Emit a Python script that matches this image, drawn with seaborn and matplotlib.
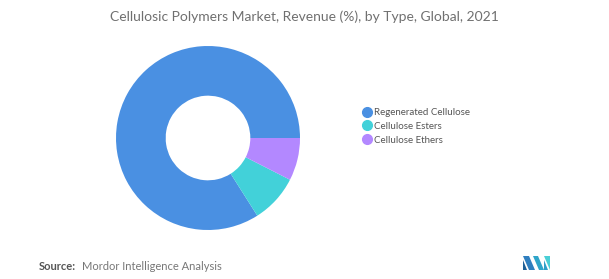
import matplotlib
matplotlib.use("Agg")
import matplotlib.pyplot as plt
from matplotlib.lines import Line2D
from matplotlib.patches import Polygon
import seaborn as sns

categories = ["Regenerated Cellulose", "Cellulose Esters", "Cellulose Ethers"]
values = [84.0, 8.5, 7.5]
colors = ["#4A90E2", "#42D1D9", "#B388FF"]

sns.set_theme(style="white")
plt.rcParams['font.family'] = ['Lato', 'DejaVu Sans']

fig = plt.figure(figsize=(6.09, 2.79), dpi=100)
fig.patch.set_facecolor("white")

W, H = 609, 279
ax = fig.add_axes([116 / W, (H - 230) / H, 184 / W, 184 / H])
pal = sns.color_palette(colors)
ax.pie(values, colors=pal, startangle=0, counterclock=True, radius=1.0,
       wedgeprops=dict(width=0.54, edgecolor="none", linewidth=0))
ax.set_xlim(-1, 1)
ax.set_ylim(-1, 1)
ax.set_aspect("equal")
ax.axis("off")

handles = [Line2D([0], [0], marker="o", linestyle="none", markersize=7,
                  markerfacecolor=c, markeredgecolor=c) for c in pal]
fig.legend(handles, categories, loc="upper left",
           bbox_to_anchor=(362 / W, 1 - 108 / H), frameon=False,
           fontsize=7, labelcolor="#555555", handletextpad=0.25,
           labelspacing=0.5, borderaxespad=0, borderpad=0, handlelength=1.0)

fig.text(0.5, 1 - 16.5 / H, "Cellulosic Polymers Market, Revenue (%), by Type, Global, 2021",
         ha="center", va="center", fontsize=10, color="#707070")

fig.text(39 / W, 1 - 266 / H, "Source:", ha="left", va="center", fontsize=8,
         color="#555555", fontweight="bold")
fig.text(82 / W, 1 - 266 / H, "Mordor Intelligence Analysis", ha="left", va="center",
         fontsize=8, color="#777777")

# logo
def P(pts, c):
    fig.patches.append(Polygon([(x / W, 1 - y / H) for x, y in pts], closed=True,
                               transform=fig.transFigure, facecolor=c, edgecolor="none"))
P([(523, 256), (529, 256), (535, 270), (529, 270)], "#2F7FBF")
P([(523, 260), (523, 270), (527, 270)], "#1E5F96")
P([(533, 256), (538, 256), (544, 270), (539, 270)], "#2FA5C9")
P([(544, 256), (550, 256), (550, 270)], "#4ACFD6")
P([(544, 260), (544, 270), (548, 270)], "#2F9FC9")

fig.savefig("out.png", dpi=100, facecolor="white")
